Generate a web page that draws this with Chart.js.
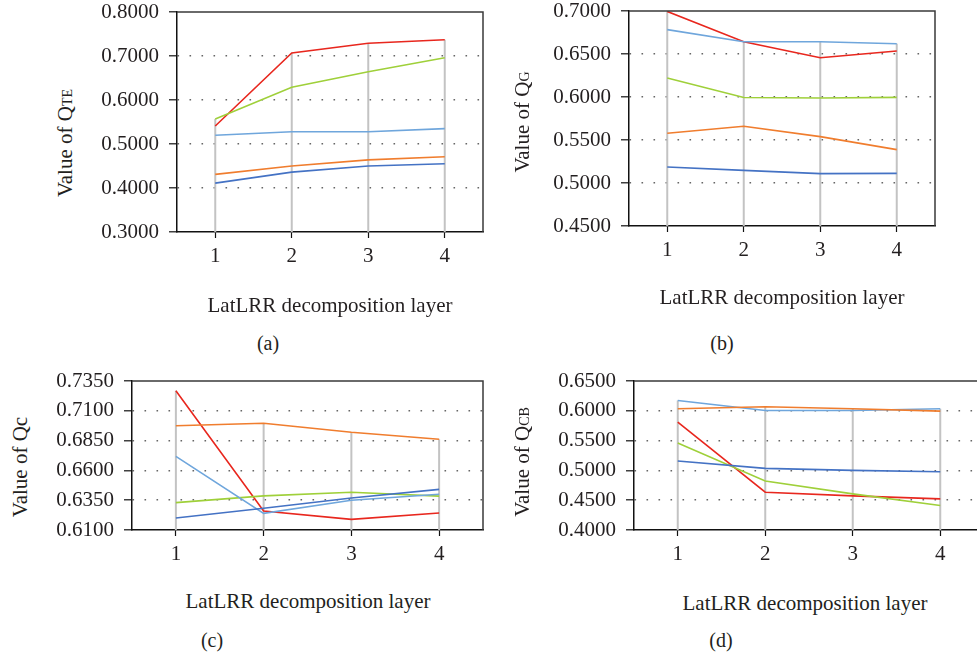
<!DOCTYPE html>
<html>
<head>
<meta charset="utf-8">
<script src="https://cdn.jsdelivr.net/npm/chart.js@4/dist/chart.umd.min.js"></script>
<style>
  html, body { margin: 0; padding: 0; background: #fff; overflow: hidden; }
  #page { position: relative; width: 977px; height: 657px; overflow: hidden; font-family: 'Liberation Serif', serif; color: #231f20; }
  .box { position: absolute; }
  .xt { position: absolute; width: 400px; text-align: center; font-size: 21px; line-height: 24px; }
  .yt { position: absolute; width: 220px; height: 24px; line-height: 24px; text-align: center; font-size: 21px; transform: rotate(-90deg); white-space: nowrap; }
  .yt span { font-size: 14px; }
  .lab { position: absolute; width: 60px; text-align: center; font-size: 20px; line-height: 24px; }
</style>
</head>
<body>
<div id="page">
  <div class="box" style="left:80px;top:0px"><canvas id="cA" width="420" height="275"></canvas></div>
  <div class="box" style="left:530px;top:0px"><canvas id="cB" width="447" height="270"></canvas></div>
  <div class="box" style="left:40px;top:360px"><canvas id="cC" width="460" height="210"></canvas></div>
  <div class="box" style="left:540px;top:360px"><canvas id="cD" width="460" height="210"></canvas></div>

  <div class="yt" style="left:-45px;top:131px">Value of Q<span>TE</span></div>
  <div class="yt" style="left:412px;top:110px">Value of Q<span>G</span></div>
  <div class="yt" style="left:-90px;top:455px">Value of Qc</div>
  <div class="yt" style="left:412px;top:450px">Value of Q<span>CB</span></div>

  <div class="xt" style="left:130px;top:293px">LatLRR decomposition layer</div>
  <div class="xt" style="left:582px;top:285px">LatLRR decomposition layer</div>
  <div class="xt" style="left:108px;top:589px">LatLRR decomposition layer</div>
  <div class="xt" style="left:605px;top:591px">LatLRR decomposition layer</div>

  <div class="lab" style="left:238px;top:331px">(a)</div>
  <div class="lab" style="left:692px;top:331px">(b)</div>
  <div class="lab" style="left:182px;top:628px">(c)</div>
  <div class="lab" style="left:691px;top:628px">(d)</div>
</div>
<script>
const layers = ['1', '2', '3', '4'];
const seriesNames = ['Series 1', 'Series 2', 'Series 3', 'Series 4', 'Series 5'];
const seriesColors = ['#4472c4', '#f07d2e', '#6fa6dc', '#9fd03a', '#e8271e'];

// one row per series, in the order of seriesNames
const qTE = [
  [0.411, 0.436, 0.450, 0.455],
  [0.431, 0.450, 0.464, 0.471],
  [0.520, 0.528, 0.528, 0.535],
  [0.557, 0.629, 0.664, 0.696],
  [0.541, 0.707, 0.729, 0.737]
];
const qG = [
  [0.5186, 0.5147, 0.5109, 0.5112],
  [0.5578, 0.5659, 0.5539, 0.5388],
  [0.6783, 0.6643, 0.6643, 0.6620],
  [0.6221, 0.5995, 0.5988, 0.5996],
  [0.6995, 0.6643, 0.6457, 0.6535]
];
const qC = [
  [0.6201, 0.6282, 0.6369, 0.6441],
  [0.6974, 0.6996, 0.6920, 0.6861],
  [0.6717, 0.6240, 0.6350, 0.6400],
  [0.6330, 0.6386, 0.6417, 0.6384],
  [0.7269, 0.6259, 0.6189, 0.6243]
];
const qCB = [
  [0.5157, 0.5034, 0.5000, 0.4978],
  [0.6034, 0.6067, 0.6034, 0.5994],
  [0.6173, 0.6006, 0.6006, 0.6034],
  [0.5461, 0.4821, 0.4606, 0.4411],
  [0.5810, 0.4634, 0.4573, 0.4522]
];

const tickFont = { family: 'Liberation Serif', size: 21 };

// grey drop lines from the highest point down to the axis
const dropLines = {
  id: 'dropLines',
  beforeDatasetsDraw(chart) {
    const { ctx, chartArea, scales: { x, y } } = chart;
    ctx.save();
    ctx.strokeStyle = '#c3c3c3';
    ctx.lineWidth = 2;
    chart.data.labels.forEach((lab, i) => {
      const top = Math.max(...chart.data.datasets.map(d => d.data[i]));
      const px = x.getPixelForValue(i);
      ctx.beginPath();
      ctx.moveTo(px, y.getPixelForValue(top));
      ctx.lineTo(px, chartArea.bottom);
      ctx.stroke();
    });
    ctx.restore();
  }
};

// top and right edges of the plot box
const frame = {
  id: 'frame',
  afterDraw(chart) {
    const { ctx, chartArea } = chart;
    ctx.save();
    ctx.strokeStyle = '#3a3a3a';
    ctx.lineWidth = 1.5;
    ctx.beginPath();
    ctx.moveTo(chartArea.left, chartArea.top);
    ctx.lineTo(chartArea.right, chartArea.top);
    ctx.lineTo(chartArea.right, chartArea.bottom);
    ctx.stroke();
    ctx.restore();
  }
};

function makeChart(id, values, min, max, step, yWidth, xHeight, pad) {
  new Chart(document.getElementById(id), {
    type: 'line',
    plugins: [dropLines, frame],
    data: {
      labels: layers,
      datasets: values.map((row, i) => ({
        label: seriesNames[i],
        data: row,
        borderColor: seriesColors[i],
        borderWidth: 1.6,
        pointRadius: 0,
        tension: 0,
        fill: false
      }))
    },
    options: {
      responsive: false,
      animation: false,
      layout: { padding: pad },
      plugins: { legend: { display: false }, tooltip: { enabled: false } },
      scales: {
        x: {
          offset: true,
          afterFit: s => { s.height = xHeight; s.paddingLeft = 0; s.paddingRight = 0; },
          grid: { display: true, drawOnChartArea: false, tickLength: 6, tickColor: '#111', tickWidth: 1.2 },
          border: { display: true, color: '#111', width: 1.5 },
          ticks: { font: tickFont, color: '#231f20', padding: 6 }
        },
        y: {
          min: min,
          max: max,
          afterFit: s => { s.width = yWidth; s.paddingTop = 0; s.paddingBottom = 0; },
          grid: {
            color: ctx => (Math.abs(ctx.tick.value - min) < 1e-9 || Math.abs(ctx.tick.value - max) < 1e-9) ? 'rgba(0,0,0,0)' : '#666',
            lineWidth: 1.6,
            tickLength: 8,
            tickColor: '#111',
            tickWidth: 1.2,
            tickBorderDash: []
          },
          border: { display: true, color: '#111', width: 1.5, dash: [1.6, 10.4] },
          ticks: {
            stepSize: step,
            font: tickFont,
            color: '#231f20',
            padding: 10,
            callback: v => v.toFixed(4)
          }
        }
      }
    }
  });
}

makeChart('cA', qTE, 0.30, 0.80, 0.1, 97, 43, { top: 12, right: 17, left: 0, bottom: 0 });
makeChart('cB', qG, 0.45, 0.70, 0.05, 99, 44, { top: 11, right: 42, left: 0, bottom: 0 });
makeChart('cC', qC, 0.61, 0.735, 0.025, 92, 40, { top: 21, right: 17, left: 0, bottom: 0 });
makeChart('cD', qCB, 0.40, 0.65, 0.05, 94, 40, { top: 21, right: 16, left: 0, bottom: 0 });
</script>
</body>
</html>
